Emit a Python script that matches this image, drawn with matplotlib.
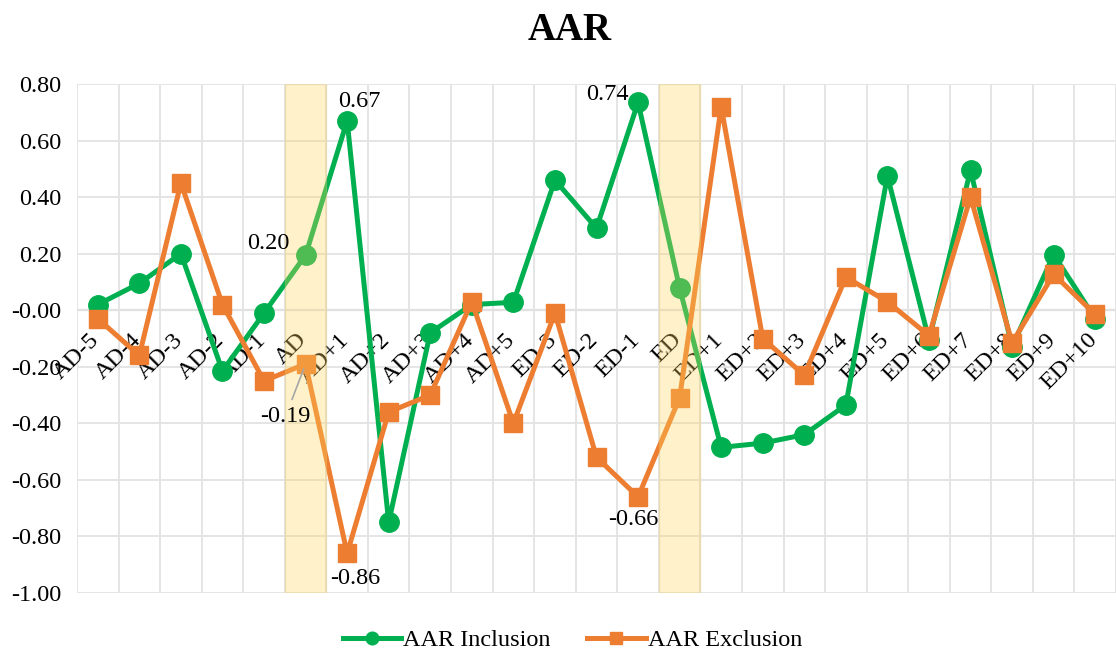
import numpy as np
import matplotlib.pyplot as plt

plt.rcParams['font.family'] = ['Liberation Serif', 'DejaVu Serif']

# 事件窗口
categories = ['AD-5', 'AD-4', 'AD-3', 'AD-2', 'AD-1', 'AD', 'AD+1', 'AD+2', 'AD+3', 'AD+4', 'AD+5',
              'ED-3', 'ED-2', 'ED-1', 'ED', 'ED+1', 'ED+2', 'ED+3', 'ED+4', 'ED+5', 'ED+6', 'ED+7',
              'ED+8', 'ED+9', 'ED+10']

aar_inclusion = [0.02, 0.095, 0.20, -0.215, -0.01, 0.195, 0.67, -0.75, -0.08, 0.02, 0.028,
                 0.46, 0.29, 0.735, 0.078, -0.485, -0.47, -0.44, -0.335, 0.475, -0.105, 0.495,
                 -0.13, 0.197, -0.03]
aar_exclusion = [-0.03, -0.16, 0.45, 0.02, -0.25, -0.19, -0.86, -0.36, -0.30, 0.03, -0.40,
                 -0.01, -0.52, -0.66, -0.31, 0.72, -0.10, -0.23, 0.117, 0.03, -0.09, 0.40,
                 -0.115, 0.127, -0.015]

highlight = ['AD', 'ED']

GREEN = '#00B050'
ORANGE = '#ED7D31'

x = np.arange(len(categories))

fig = plt.figure(figsize=(11.16, 6.51), dpi=100)
ax = fig.add_axes([77 / 1116, 1 - 593 / 651, 1039 / 1116, 509 / 651])

ax.plot(x, aar_inclusion, color=GREEN, lw=3.6, marker='o', ms=14, zorder=3, label='AAR Inclusion')
ax.plot(x, aar_exclusion, color=ORANGE, lw=3.6, marker='s', ms=12.5, zorder=3, label='AAR Exclusion')

# 高亮 AD / ED
for h in highlight:
    i = categories.index(h)
    ax.axvspan(i - 0.5, i + 0.5, facecolor='#FFD55A', alpha=0.31, edgecolor='#E8C870',
               lw=1, zorder=4)

ax.set_xlim(-0.5, len(categories) - 0.5)
ax.set_ylim(-1.0, 0.8)
ax.set_yticks(np.arange(-1.0, 0.81, 0.2))
ax.set_yticklabels(['%.2f' % v for v in np.arange(-1.0, 0.81, 0.2)], fontsize=17.5)
ax.set_xticks([])
ax.set_xticks(np.arange(-0.5, len(categories), 1), minor=True)
ax.tick_params(axis='y', length=0, pad=11)
ax.tick_params(axis='x', which='both', length=0)
ax.grid(axis='y', color='#e3e3e3', lw=1.3, zorder=0)
ax.grid(axis='x', which='minor', color='#e3e3e3', lw=1.3, zorder=0)
ax.axhline(0, color='#d6d6d6', lw=1.6, zorder=1)
for s in ax.spines.values():
    s.set_visible(False)

# 类别标签放在 0 轴下方
for i, c in enumerate(categories):
    ax.annotate(c, (i, 0), xytext=(-1, -19), textcoords='offset points',
                rotation=45, rotation_mode='anchor', ha='right', va='center',
                fontsize=17.5, zorder=2)

# 数据标签
lab = dict(textcoords='offset points', fontsize=17.5, ha='center', va='center', zorder=6)
ax.annotate('0.20', (5, aar_inclusion[5]), xytext=(-27, 8), **lab)
ax.annotate('0.67', (6, aar_inclusion[6]), xytext=(9, 14), **lab)
ax.annotate('-0.86', (6, aar_exclusion[6]), xytext=(5.5, -18), **lab)
ax.annotate('0.74', (13, aar_inclusion[13]), xytext=(-22, 6), **lab)
ax.annotate('-0.66', (13, aar_exclusion[13]), xytext=(-3.5, -16.5), **lab)
ax.annotate('-0.19', (5, aar_exclusion[5]), xytext=(-14.5, -38), **lab,
            arrowprops=dict(arrowstyle='-', color='#a6a6a6', lw=1.2, shrinkA=3, shrinkB=4))

fig.text(0.51, 1 - 31 / 651, 'AAR', fontsize=28, fontweight='bold', ha='center', va='center')

handles, labels = ax.get_legend_handles_labels()
fig.legend(handles, labels, loc='center', bbox_to_anchor=(0.513, 1 - 640 / 651), ncol=2,
           frameon=False, fontsize=17.5, markerscale=0.65, handlelength=2.4,
           handletextpad=0.1, columnspacing=1.5)

plt.savefig('out.png', dpi=100)
